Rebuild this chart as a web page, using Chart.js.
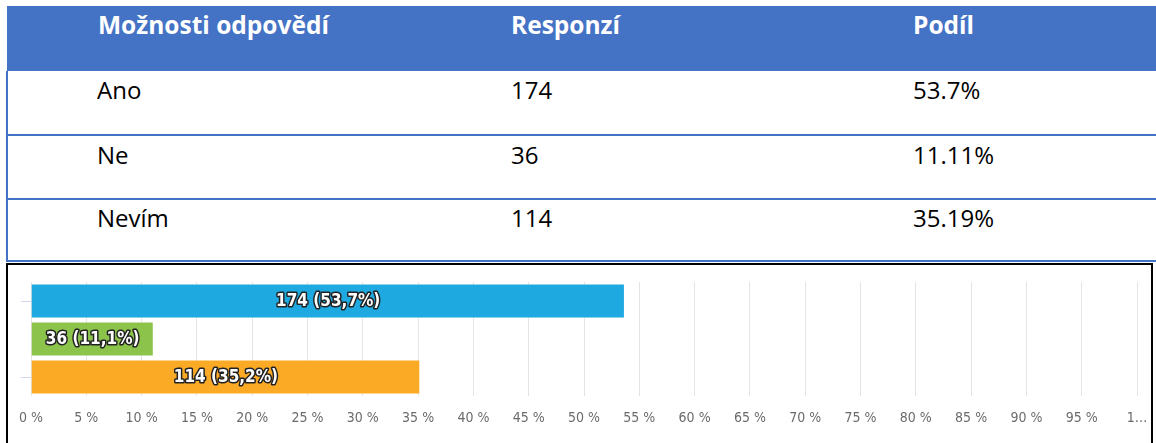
<!DOCTYPE html>
<html>
<head>
<meta charset="utf-8">
<script src="https://cdn.jsdelivr.net/npm/chart.js@4"></script>
<style>
	body { margin: 0; background: #fff; width: 1156px; height: 443px; overflow: hidden; position: relative; }
	table { position: absolute; left: 6px; top: 6px; width: 1150px; border-collapse: collapse; font-family: "Open Sans", sans-serif; font-size: 24px; table-layout: fixed; }
	th, td { padding: 4px 0 0 91px; text-align: left; vertical-align: top; line-height: 30px; }
	th { background: #4472c4; color: #fff; font-weight: bold; font-size: 24.5px; height: 61px; }
	td { color: #000; height: 58px; border-bottom: 2px solid #4472c4; }
	tr:first-child td { height: 59px; }
	tr:last-child td { height: 57px; padding-top: 3px; }
	td:first-child { border-left: 2px solid #4472c4; padding-left: 89px; }
	#panel { position: absolute; left: 6px; top: 263px; width: 1147px; height: 190px; border: 2px solid #000; box-sizing: border-box; background: #fff; }
	#panel canvas { position: absolute; left: 0; top: 0; }
</style>
</head>
<body>
<table>
	<colgroup><col style="width:413px"><col style="width:402px"><col style="width:335px"></colgroup>
	<thead><tr id="head"></tr></thead>
	<tbody id="rows"></tbody>
</table>
<div id="panel"><canvas id="myChart" width="1143" height="178"></canvas></div>
<script>
const headers = ["Možnosti odpovědí", "Responzí", "Podíl"];
const categories = ["Ano", "Ne", "Nevím"];
const responses = [174, 36, 114];
const shares = ["53.7%", "11.11%", "35.19%"];
const percents = [53.7, 11.1, 35.2];
const barLabels = ["174 (53,7%)", "36 (11,1%)", "114 (35,2%)"];
const barColors = ["#1fa9e1", "#8cc34a", "#fbaa25"];

window.onload = function () {
	var head = document.getElementById("head");
	for (var h = 0; h < headers.length; h++) {
		var th = document.createElement("th");
		th.innerText = headers[h];
		head.appendChild(th);
	}
	var body = document.getElementById("rows");
	for (var i = 0; i < categories.length; i++) {
		var tr = document.createElement("tr");
		[categories[i], responses[i], shares[i]].forEach(function (v) {
			var td = document.createElement("td");
			td.innerText = v;
			tr.appendChild(td);
		});
		body.appendChild(tr);
	}

	// white outlined labels in the middle of each bar
	var barText = {
		id: "barText",
		afterDatasetsDraw: function (chart) {
			var c = chart.ctx;
			var meta = chart.getDatasetMeta(0);
			c.save();
			c.font = "bold 17px 'DejaVu Sans Condensed'";
			c.textAlign = "center";
			c.textBaseline = "middle";
			c.lineJoin = "round";
			meta.data.forEach(function (bar, i) {
				var x = (bar.base + bar.x) / 2;
				c.lineWidth = 3;
				c.strokeStyle = "#222";
				c.strokeText(barLabels[i], x, bar.y + 1);
				c.fillStyle = "#fff";
				c.fillText(barLabels[i], x, bar.y + 1);
			});
			c.restore();
		},
	};

	var ctx = document.getElementById("myChart").getContext("2d");
	myChart = new Chart(ctx, {
		type: "bar",
		data: {
			labels: categories,
			datasets: [
				{
					data: percents,
					backgroundColor: barColors,
					borderColor: "rgba(255, 255, 255, 0.35)",
					borderWidth: 1,
					barPercentage: 0.92,
					categoryPercentage: 1,
				},
			],
		},
		plugins: [barText],
		options: {
			indexAxis: "y",
			responsive: false,
			animation: false,
			layout: { padding: { top: 17, right: 14, left: 0, bottom: 0 } },
			plugins: { legend: { display: false }, tooltip: { enabled: false } },
			scales: {
				x: {
					min: 0,
					max: 100,
					afterFit: function (scale) {
						scale.height = 47;
						scale.paddingLeft = 0;
						scale.paddingRight = 0;
					},
					border: { display: false },
					grid: { color: "#e4e4e4", drawTicks: false },
					ticks: {
						stepSize: 5,
						autoSkip: false,
						maxRotation: 0,
						padding: 14,
						color: "#6b6b6b",
						font: { family: "DejaVu Sans Condensed", size: 14 },
						callback: function (v) { return v === 100 ? "1…" : v + " %"; },
					},
				},
				y: {
					afterFit: function (scale) { scale.width = 23; },
					border: { display: false },
					grid: {
						drawOnChartArea: false,
						offset: false,
						tickLength: 10,
						color: function (c) { return c.index === 1 ? "rgba(0,0,0,0)" : "#d3d8ee"; },
					},
					ticks: { display: false },
				},
			},
		},
	});
};
</script>
</body>
</html>
